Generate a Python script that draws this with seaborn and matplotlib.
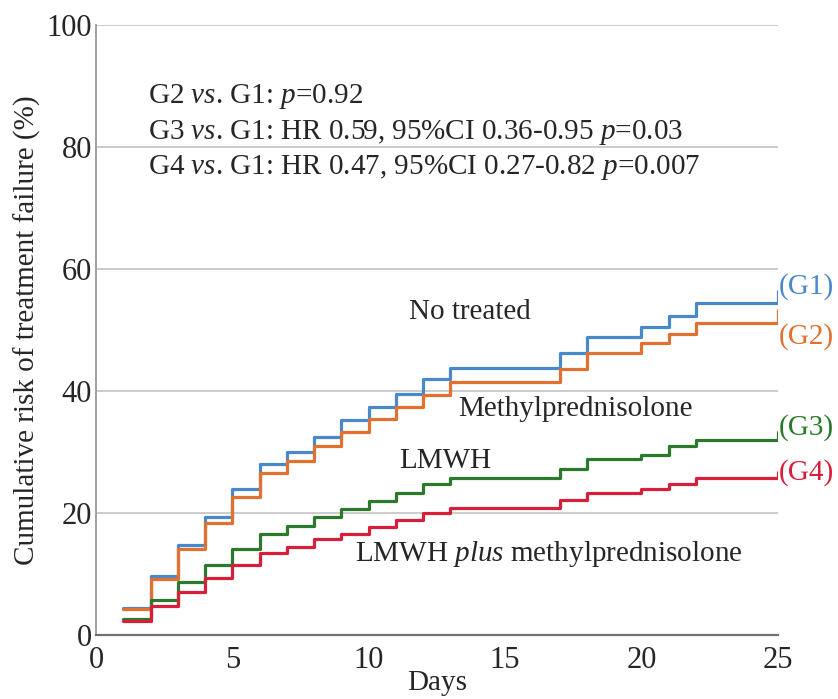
import matplotlib
matplotlib.use("Agg")
import matplotlib.pyplot as plt
import seaborn as sns
import pandas as pd

days = [1, 2, 3, 4, 5, 6, 7, 8, 9, 10, 11, 12, 13, 17, 18, 20, 21, 22, 25]
g1 = [4.5, 9.7, 14.8, 19.3, 23.9, 28.0, 30.0, 32.5, 35.2, 37.3, 39.5, 41.9, 43.7, 46.2, 48.9, 50.5, 52.3, 54.4, 56.4]
g2 = [4.2, 9.2, 14.1, 18.3, 22.7, 26.5, 28.5, 30.9, 33.2, 35.4, 37.3, 39.4, 41.4, 43.6, 46.2, 47.8, 49.3, 51.2, 53.3]
g3 = [2.7, 5.7, 8.7, 11.4, 14.1, 16.6, 17.8, 19.3, 20.6, 22.0, 23.3, 24.8, 25.8, 27.2, 28.8, 29.5, 30.9, 32.0, 33.2]
g4 = [2.3, 4.8, 7.1, 9.3, 11.5, 13.4, 14.4, 15.7, 16.6, 17.7, 18.9, 20.0, 20.8, 22.2, 23.2, 24.0, 24.8, 25.8, 26.8]
groups = ["(G1)", "(G2)", "(G3)", "(G4)"]
curve_names = ["No treated", "Methylprednisolone", "LMWH", "LMWH plus methylprednisolone"]
colors = ["#4a88cc", "#e2702e", "#2b7a2b", "#d81f3a"]

rows = []
for g, vals in zip(groups, [g1, g2, g3, g4]):
    for d, v in zip(days, vals):
        rows.append({"Days": d, "risk": v, "group": g})
df = pd.DataFrame(rows)

sns.set_style("white")
plt.rcParams["font.family"] = ["Liberation Serif", "DejaVu Serif"]
plt.rcParams["mathtext.fontset"] = "custom"
plt.rcParams["mathtext.it"] = "Liberation Serif:italic"
plt.rcParams["mathtext.rm"] = "Liberation Serif"

fig = plt.figure(figsize=(8.38, 6.99), dpi=100)
ax = fig.add_axes([0.1146, 0.0916, 0.8134, 0.8726])

sns.lineplot(data=df, x="Days", y="risk", hue="group", palette=colors,
             drawstyle="steps-post", estimator=None, linewidth=2.3,
             legend=False, ax=ax)

ax.set_xlim(0, 25)
ax.set_ylim(0, 100)
ax.set_xticks([0, 5, 10, 15, 20, 25])
ax.set_yticks([0, 20, 40, 60, 80, 100])
ax.tick_params(axis="y", labelsize=22, length=0, pad=3)
ax.tick_params(axis="x", labelsize=22, length=0, pad=8)
for y in [20, 40, 60, 80, 100]:
    ax.axhline(y, color="#c4c4c4", linewidth=1.2, zorder=0)
ax.set_xlabel("Days", fontsize=21, labelpad=-3.5)
ax.set_ylabel("Cumulative risk of treatment failure (%)", fontsize=21, labelpad=4)
for s in ["top", "right"]:
    ax.spines[s].set_visible(False)
ax.spines["left"].set_color("#9a9a9a")
ax.spines["left"].set_linewidth(1.3)
ax.spines["bottom"].set_color("#707070")
ax.spines["bottom"].set_linewidth(1.6)

fs = 21
ax.text(1.9, 88.2, r"G2 $\it{vs}$. G1: $\it{p}$=0.92", fontsize=fs, va="center")
ax.text(1.9, 82.4, r"G3 $\it{vs}$. G1: HR 0.59, 95%CI 0.36-0.95 $\it{p}$=0.03", fontsize=fs, va="center")
ax.text(1.9, 76.6, r"G4 $\it{vs}$. G1: HR 0.47, 95%CI 0.27-0.82 $\it{p}$=0.007", fontsize=fs, va="center")

ax.text(13.7, 53.0, curve_names[0], fontsize=fs, ha="center", va="center")
ax.text(17.6, 37.0, curve_names[1], fontsize=fs, ha="center", va="center")
ax.text(12.8, 28.5, curve_names[2], fontsize=fs, ha="center", va="center")
ax.text(16.6, 13.3, r"LMWH $\it{plus}$ methylprednisolone", fontsize=fs, ha="center", va="center")

label_y = [57.2, 49.0, 34.0, 26.6]
for g, c, yv in zip(groups, colors, label_y):
    ax.text(25.05, yv, g, color=c, fontsize=fs, ha="left", va="center", clip_on=False)

fig.savefig("out.png", dpi=100)
